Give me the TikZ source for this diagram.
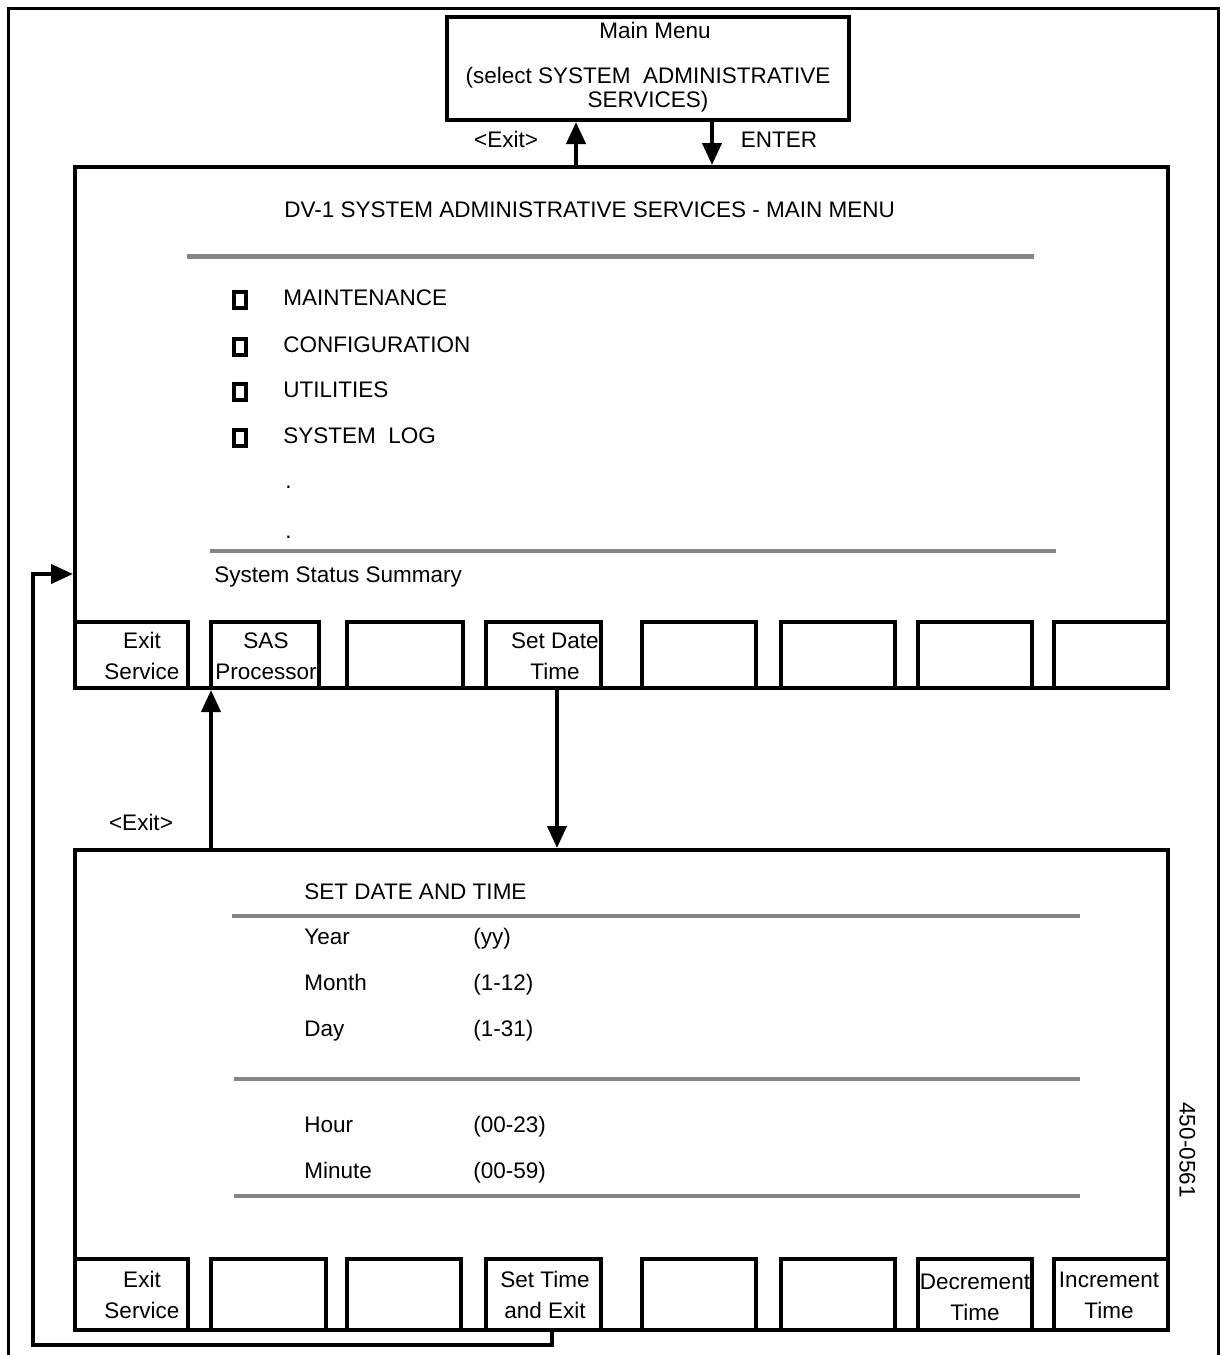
\documentclass[tikz,border=0pt]{standalone}
\usepackage{fontspec}
\setmainfont{Liberation Sans}
\usetikzlibrary{arrows.meta,fit}
\begin{document}
\begin{tikzpicture}[x=0.5pt,y=-0.5pt,
  font=\fontsize{11.25}{15.5}\selectfont,
  frame/.style={draw, line width=2pt, inner sep=0pt},
  key/.style={draw, line width=2pt, inner sep=0pt, fill=white},
  ktxt/.style={inner sep=0pt, anchor=center, align=center},
  txt/.style={inner sep=0pt, anchor=mid west},
  ctxt/.style={inner sep=0pt, anchor=mid},
  rule/.style={draw=black!48, line width=2pt},
  chk/.style={draw, line width=2pt, inner sep=0pt, minimum width=5.8pt, minimum height=8.4pt},
  arr/.style={line width=2pt, -{Triangle[length=11pt,width=9.5pt]}}]
\useasboundingbox (0,0) rectangle (1221,1355);
% outer frame
\draw[line width=1.5pt] (8,1355) -- (8,8) -- (1218,8) -- (1218,1355);

% main menu box
\node[frame, fit={(447,17) (849,120)}] (mm) {};
\node[ctxt] (mmt) at (655,33) {Main Menu};
\node[ktxt, font=\fontsize{11.25}{12}\selectfont] (mms) at (648,90) {(select SYSTEM\ \ ADMINISTRATIVE\\SERVICES)};

% SAS main menu box
\node[frame, fit={(75,167) (1168,688)}] (sas) {};
\node[txt] (sast) at (284,212) {DV-1 SYSTEM ADMINISTRATIVE SERVICES - MAIN MENU};
\draw[rule, line width=2.5pt] (187,256) -- (1034,256);
\node[chk] (c1) at (240,300) {};
\node[chk] (c2) at (240,347) {};
\node[chk] (c3) at (240,392) {};
\node[chk] (c4) at (240,438) {};
\node[txt] (i1) at (283,300) {MAINTENANCE};
\node[txt] (i2) at (283,347) {CONFIGURATION};
\node[txt] (i3) at (283,392) {UTILITIES};
\node[txt] (i4) at (283,438) {SYSTEM\ \ LOG};
\node[txt] (d1) at (285,483) {.};
\node[txt] (d2) at (285,533) {.};
\draw[rule] (210,551) -- (1056,551);
\node[txt] (sss) at (214,577) {System Status Summary};

% keys of main menu
\node[key, fit={(75,622) (188,688)}] (k11) {};
\node[key, fit={(211,622) (319,688)}] (k12) {};
\node[key, fit={(347,622) (463,688)}] (k13) {};
\node[key, fit={(486,622) (601,688)}] (k14) {};
\node[key, fit={(642,622) (756,688)}] (k15) {};
\node[key, fit={(781,622) (895,688)}] (k16) {};
\node[key, fit={(918,622) (1032,688)}] (k17) {};
\node[key, fit={(1054,622) (1168,688)}] (k18) {};
\node[ktxt] (t11) at (142,656) {Exit\\Service};
\node[ktxt] (t12) at (266,656) {SAS\\Processor};
\node[ktxt] (t14) at (555,656) {Set Date\\Time};

% set date and time box
\node[frame, fit={(75,850) (1168,1330)}] (sdt) {};
\node[txt] (sdtt) at (304,894) {SET DATE AND TIME};
\draw[rule] (232,916) -- (1080,916);
\node[txt] (yl) at (304,939) {Year};
\node[txt] (yv) at (473,939) {(yy)};
\node[txt] (ml) at (304,985) {Month};
\node[txt] (mv) at (473,985) {(1-12)};
\node[txt] (dl) at (304,1031) {Day};
\node[txt] (dv) at (473,1031) {(1-31)};
\draw[rule] (234,1079) -- (1080,1079);
\node[txt] (hl) at (304,1127) {Hour};
\node[txt] (hv) at (473,1127) {(00-23)};
\node[txt] (nl) at (304,1173) {Minute};
\node[txt] (nv) at (473,1173) {(00-59)};
\draw[rule] (234,1196) -- (1080,1196);

% keys of set date and time
\node[key, fit={(75,1259) (188,1330)}] (k21) {};
\node[key, fit={(211,1259) (326,1330)}] (k22) {};
\node[key, fit={(347,1259) (461,1330)}] (k23) {};
\node[key, fit={(486,1259) (601,1330)}] (k24) {};
\node[key, fit={(642,1259) (756,1330)}] (k25) {};
\node[key, fit={(781,1259) (895,1330)}] (k26) {};
\node[key, fit={(918,1259) (1032,1330)}] (k27) {};
\node[key, fit={(1054,1259) (1168,1330)}] (k28) {};
\node[ktxt] (t21) at (142,1295) {Exit\\Service};
\node[ktxt] (t24) at (545,1295) {Set Time\\and Exit};
\node[ktxt] (t27) at (975,1297) {Decrement\\Time};
\node[ktxt] (t28) at (1109,1295) {Increment\\Time};

\node[ctxt, rotate=-90] (fig) at (1185,1150) {450-0561};

% connectors
\draw[arr] (576,0 |- sas.north) -- (576,0 |- mm.south);
\node[ctxt] (ex1) at (506,142) {<Exit>};
\draw[arr] (712,0 |- mm.south) -- (712,0 |- sas.north);
\node[ctxt] (ent) at (779,142) {ENTER};

\draw[arr] (211,0 |- sdt.north) -- (211,0 |- sas.south);
\node[ctxt] (ex2) at (141,825) {<Exit>};
\draw[arr] (557,0 |- sas.south) -- (557,0 |- sdt.north);

\coordinate (lp1) at (552,1345);
\coordinate (lp2) at (33,1345);
\coordinate (lp3) at (33,574);
\draw[arr] (552,0 |- k24.south) -- (lp1) -- (lp2) -- (lp3) -- (sas.west |- lp3);
\end{tikzpicture}
\end{document}
